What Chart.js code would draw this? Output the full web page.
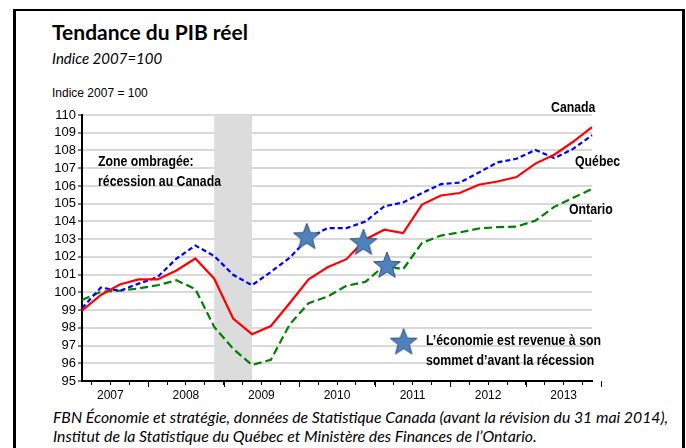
<!DOCTYPE html>
<html lang="fr">
<head>
<meta charset="UTF-8">
<title>Tendance du PIB réel</title>
<script src="https://cdn.jsdelivr.net/npm/chart.js"></script>
<style>
    body {
        margin: 0;
        width: 686px;
        height: 448px;
        overflow: hidden;
        background: #ffffff;
        position: relative;
        font-family: "Liberation Sans", Arial, sans-serif;
        color: #000;
    }
    .frame {
        position: absolute;
        left: 13px;
        top: 9px;
        width: 666px;
        height: 460px;
        border-style: solid;
        border-color: #000;
        border-width: 2px 3px 2px 3px;
    }
    .txt { position: absolute; white-space: nowrap; }
    .title { left: 52px; top: 21px; font: 700 21px Lato, sans-serif; line-height: 21px; }
    .subtitle { left: 52px; top: 51px; font: italic 15px Lato, sans-serif; line-height: 15px; }
    .unit { left: 52px; top: 87px; font-size: 12px; line-height: 12px; }
    /* Arial Narrow absent: Liberation Sans gras resserré */
    .note {
        font: 700 15px "Liberation Sans", Arial, sans-serif;
        line-height: 20px;
        transform: scaleX(0.82);
        transform-origin: 0 0;
    }
    .footer { left: 53px; top: 407px; font: italic 15.8px Lato, sans-serif; line-height: 19px; }
    #chartBox { position: absolute; left: 0; top: 100px; width: 686px; height: 300px; }
</style>
</head>
<body>
<div class="frame"></div>
<div class="txt title">Tendance du PIB réel</div>
<div class="txt subtitle">Indice 2007=100</div>
<div class="txt unit">Indice 2007 = 100</div>

<div id="chartBox"><canvas id="pib"></canvas></div>

<div class="txt note" style="left:551px; top:97px;">Canada</div>
<div class="txt note" style="left:575px; top:151px;">Québec</div>
<div class="txt note" style="left:569px; top:199px;">Ontario</div>
<div class="txt note" style="left:98px; top:151px;">Zone ombragée:<br>récession au Canada</div>
<div class="txt note" style="left:426px; top:330px;">L’économie est revenue à son<br>sommet d’avant la récession</div>

<div class="txt footer">FBN Économie et stratégie, données de Statistique Canada (avant la révision du 31 mai 2014),<br>Institut de la Statistique du Québec et Ministère des Finances de l’Ontario.</div>

<script>
// trimestres 2007T1 .. 2013T4
const quarters = [
    '2007T1','2007T2','2007T3','2007T4','2008T1','2008T2','2008T3','2008T4',
    '2009T1','2009T2','2009T3','2009T4','2010T1','2010T2','2010T3','2010T4',
    '2011T1','2011T2','2011T3','2011T4','2012T1','2012T2','2012T3','2012T4',
    '2013T1','2013T2','2013T3','2013T4'
];
const years = ['2007', '2008', '2009', '2010', '2011', '2012', '2013'];

const canada = [98.97, 99.85, 100.44, 100.73, 100.73, 101.23, 101.91, 100.77,
                98.52, 97.64, 98.10, 99.40, 100.73, 101.41, 101.87, 102.98,
                103.53, 103.34, 104.95, 105.46, 105.60, 106.07, 106.25, 106.50,
                107.26, 107.76, 108.49, 109.32];
const quebec = [99.11, 100.27, 100.09, 100.49, 100.86, 101.90, 102.64, 102.05,
                100.99, 100.40, 101.15, 101.96, 103.07, 103.62, 103.62, 103.99,
                104.85, 105.07, 105.60, 106.10, 106.19, 106.75, 107.33, 107.53,
                108.03, 107.57, 108.09, 108.86];
const ontario = [99.57, 100.03, 100.09, 100.22, 100.40, 100.68, 100.18, 98.05,
                 96.82, 95.90, 96.20, 98.20, 99.39, 99.76, 100.37, 100.59,
                 101.50, 101.30, 102.79, 103.20, 103.38, 103.60, 103.68, 103.71,
                 104.04, 104.82, 105.33, 105.83];

// retour au sommet d'avant la récession (position en trimestres, indice)
const starX = [11.9, 14.9, 16.15];
const starY = [103.16, 102.83, 101.54];
const legendStar = [17.03, 97.22];

// récession: 2008T4 à 2009T2
const recession = [7, 9];

const yTicks = [95, 110];

function pts(arr) {
    return arr.map((v, i) => ({ x: i, y: v }));
}

// étoile pleine pour les marqueurs
function makeStar(r) {
    const c = document.createElement('canvas');
    const s = Math.ceil(r * 2 + 4);
    c.width = s; c.height = s;
    const g = c.getContext('2d');
    g.beginPath();
    for (let k = 0; k < 10; k++) {
        const rad = k % 2 === 0 ? r : r * 0.42;
        const a = -Math.PI / 2 + k * Math.PI / 5;
        g.lineTo(s / 2 + rad * Math.cos(a), s / 2 + 1 + rad * Math.sin(a));
    }
    g.closePath();
    g.fillStyle = '#4f81bd';
    g.fill();
    g.strokeStyle = '#2c4d75';
    g.lineWidth = 1;
    g.stroke();
    return c;
}
const star = makeStar(14);

const shading = {
    id: 'shading',
    beforeDatasetsDraw(chart) {
        const { ctx, chartArea, scales } = chart;
        const x0 = scales.x.getPixelForValue(recession[0]);
        const x1 = scales.x.getPixelForValue(recession[1]);
        ctx.save();
        ctx.fillStyle = '#dcdcdc';
        ctx.fillRect(x0, chartArea.top, x1 - x0, chartArea.bottom - chartArea.top - 1);
        ctx.restore();
    },
    afterDraw(chart) {
        // traits plus longs entre les années
        const { ctx, chartArea, scales } = chart;
        ctx.save();
        ctx.strokeStyle = '#000';
        ctx.lineWidth = 1;
        for (let v = 3.5; v < quarters.length; v += 4) {
            const x = Math.round(scales.x.getPixelForValue(v)) + 0.5;
            ctx.beginPath();
            ctx.moveTo(x, chartArea.bottom);
            ctx.lineTo(x, chartArea.bottom + 6);
            ctx.stroke();
        }
        ctx.restore();
    }
};

const axisFont = { family: '"Liberation Sans", Arial, sans-serif', size: 12 };

new Chart(document.getElementById('pib'), {
    type: 'line',
    data: {
        datasets: [
            {
                type: 'scatter',
                data: starX.map((x, i) => ({ x: x, y: starY[i] })),
                pointStyle: star,
                pointRadius: 14,
                showLine: false,
                clip: false
            },
            {
                type: 'scatter',
                data: [{ x: legendStar[0], y: legendStar[1] }],
                pointStyle: star,
                pointRadius: 14,
                showLine: false,
                clip: false
            },
            {
                label: 'Canada',
                data: pts(canada),
                borderColor: '#ff0000',
                borderWidth: 2.2,
                pointRadius: 0,
                tension: 0,
                clip: false
            },
            {
                label: 'Québec',
                data: pts(quebec),
                borderColor: '#0000ff',
                borderWidth: 2.2,
                borderDash: [5, 3],
                pointRadius: 0,
                tension: 0,
                clip: false
            },
            {
                label: 'Ontario',
                data: pts(ontario),
                borderColor: '#008000',
                borderWidth: 2.2,
                borderDash: [8, 4],
                pointRadius: 0,
                tension: 0,
                clip: false
            }
        ]
    },
    options: {
        responsive: true,
        maintainAspectRatio: false,
        animation: false,
        layout: { padding: { left: 0, right: 94, top: 9, bottom: 0 } },
        plugins: { legend: { display: false }, tooltip: { enabled: false } },
        scales: {
            x: {
                type: 'linear',
                min: 0,
                max: quarters.length - 1,
                afterBuildTicks(scale) {
                    scale.ticks = quarters.slice(0, -1).map((q, i) => ({ value: i + 0.5 }));
                },
                afterFit(scale) { scale.height = 19; },
                grid: { drawOnChartArea: false, tickLength: 4, tickColor: '#000', tickWidth: 1 },
                border: { color: '#000', width: 2 },
                ticks: {
                    autoSkip: false,
                    maxRotation: 0,
                    color: '#000',
                    font: axisFont,
                    padding: 3,
                    callback(value) {
                        const k = (value - 1.5) / 4;
                        return Number.isInteger(k) ? years[k] : '';
                    }
                }
            },
            y: {
                min: yTicks[0],
                max: yTicks[1],
                afterFit(scale) { scale.width = 82; },
                grid: { color: '#d9d9d9', lineWidth: 2, tickColor: '#000', tickLength: 4, tickWidth: 1 },
                border: { color: '#000', width: 2 },
                ticks: {
                    stepSize: 1,
                    autoSkip: false,
                    color: '#000',
                    font: { family: axisFont.family, size: 13 },
                    padding: 2
                }
            }
        }
    },
    plugins: [shading]
});
</script>
</body>
</html>
